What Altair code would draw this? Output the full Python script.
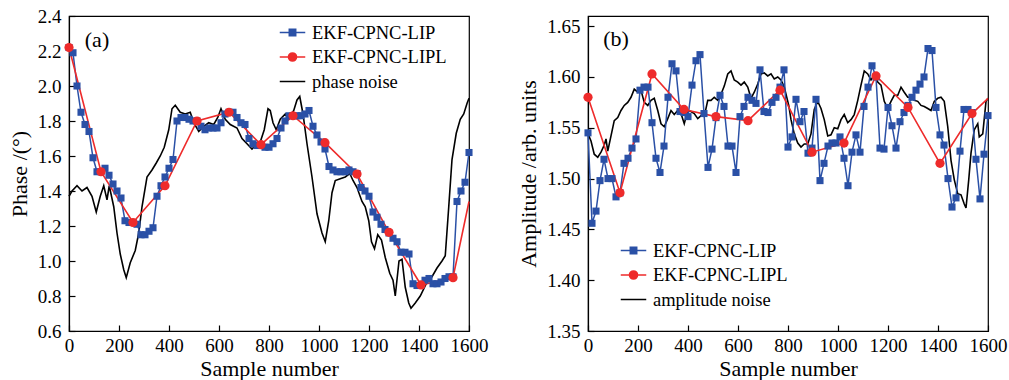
import altair as alt
import pandas as pd

# ---------------- data: panel (a) phase ----------------
STEP = 16  # pilot spacing of the LIP estimate (samples)
lip_phase = [2.22, 2.19, 2.00, 1.85, 1.78, 1.74, 1.59, 1.51, 1.51, 1.53,
             1.49, 1.44, 1.40, 1.36, 1.23, 1.22, 1.22, 1.21, 1.15, 1.15,
             1.17, 1.19, 1.37, 1.43, 1.48, 1.53, 1.58, 1.80, 1.82, 1.82,
             1.81, 1.80, 1.80, 1.77, 1.75, 1.76, 1.76, 1.76, 1.79, 1.84,
             1.85, 1.85, 1.82, 1.79, 1.78, 1.70, 1.67, 1.66, 1.66, 1.65,
             1.65, 1.67, 1.70, 1.76, 1.80, 1.83, 1.83, 1.83, 1.83, 1.84,
             1.86, 1.77, 1.72, 1.68, 1.64, 1.54, 1.52, 1.51, 1.51, 1.51,
             1.52, 1.51, 1.50, 1.42, 1.40, 1.37, 1.28, 1.25, 1.21, 1.18,
             1.16, 1.13, 1.11, 1.05, 1.05, 1.04, 0.87, 0.86, 0.86, 0.89,
             0.90, 0.87, 0.87, 0.88, 0.90, 0.91, 0.91, 1.34, 1.40, 1.45,
             1.62]
lipl_x = [0, 128, 256, 384, 512, 640, 768, 896, 1024, 1152, 1280, 1408, 1536, 1600]
lipl_phase = [2.22, 1.51, 1.22, 1.43, 1.80, 1.85, 1.665, 1.83, 1.676, 1.497,
              1.164, 0.863, 0.905, 1.34]
noise_phase_x = [0, 12, 32, 52, 72, 92, 109, 125, 139, 152, 161, 179, 192, 205,
                 219, 229, 245, 265, 279, 292, 312, 332, 349, 365, 381, 399, 412,
                 425, 445, 465, 485, 499, 519, 539, 559, 579, 595, 608, 625, 645,
                 672, 692, 712, 732, 745, 765, 781, 796, 805, 816, 829, 845, 865,
                 879, 899, 912, 923, 936, 952, 972, 992, 1012, 1025, 1039, 1052,
                 1065, 1085, 1105, 1123, 1136, 1152, 1172, 1185, 1199, 1210, 1222,
                 1235, 1250, 1265, 1283, 1296, 1305, 1320, 1332, 1345, 1359, 1368,
                 1385, 1405, 1429, 1452, 1472, 1492, 1505, 1519, 1532, 1549, 1565,
                 1579, 1592, 1600]
noise_phase = [1.37, 1.40, 1.43, 1.40, 1.42, 1.37, 1.28, 1.37, 1.43, 1.35, 1.43,
               1.31, 1.16, 1.04, 0.95, 0.905, 0.99, 1.06, 1.16, 1.31, 1.48, 1.52,
               1.56, 1.60, 1.65, 1.75, 1.87, 1.89, 1.85, 1.84, 1.85, 1.79, 1.74,
               1.77, 1.79, 1.78, 1.82, 1.87, 1.81, 1.78, 1.76, 1.70, 1.67, 1.64,
               1.66, 1.68, 1.75, 1.87, 1.86, 1.79, 1.75, 1.81, 1.84, 1.81, 1.86,
               1.92, 1.94, 1.84, 1.67, 1.48, 1.27, 1.16, 1.11, 1.23, 1.39, 1.46,
               1.47, 1.48, 1.50, 1.46, 1.42, 1.34, 1.31, 1.23, 1.11, 1.07, 1.15,
               1.12, 1.02, 0.93, 0.89, 0.80, 1.00, 1.01, 0.85, 0.76, 0.73, 0.76,
               0.80, 0.87, 0.91, 0.96, 1.00, 1.03, 1.31, 1.58, 1.73, 1.81, 1.84,
               1.90, 1.93]

# ---------------- data: panel (b) amplitude ----------------
lip_amp = [1.545, 1.456, 1.468, 1.498, 1.519, 1.500, 1.500, 1.482, 1.486, 1.515,
           1.520, 1.530, 1.539, 1.587, 1.590, 1.590, 1.555, 1.520, 1.506, 1.532,
           1.580, 1.613, 1.606, 1.566, 1.565, 1.561, 1.592, 1.616, 1.622, 1.564,
           1.511, 1.529, 1.560, 1.582, 1.571, 1.532, 1.532, 1.506, 1.561, 1.571,
           1.580, 1.577, 1.574, 1.607, 1.566, 1.565, 1.575, 1.580, 1.590, 1.607,
           1.531, 1.541, 1.578, 1.556, 1.566, 1.525, 1.530, 1.578, 1.498, 1.515,
           1.532, 1.535, 1.535, 1.541, 1.520, 1.493, 1.526, 1.543, 1.526, 1.571,
           1.590, 1.611, 1.600, 1.530, 1.529, 1.570, 1.552, 1.530, 1.556, 1.565,
           1.572, 1.580, 1.587, 1.593, 1.600, 1.628, 1.626, 1.570, 1.543, 1.533,
           1.500, 1.472, 1.481, 1.527, 1.568, 1.568, 1.565, 1.519, 1.480, 1.524,
           1.562]
lipl_amp = [1.580, 1.486, 1.603, 1.568, 1.561, 1.557, 1.587, 1.526, 1.535, 1.601,
            1.570, 1.515, 1.564, 1.579]
noise_amp_x = [0, 12, 25, 39, 52, 65, 72, 79, 92, 105, 119, 132, 145, 159, 172,
               185, 199, 212, 225, 239, 252, 265, 279, 292, 305, 319, 332, 345,
               359, 372, 385, 399, 412, 425, 439, 452, 465, 479, 492, 505, 519,
               532, 545, 559, 572, 585, 599, 612, 625, 639, 652, 665, 679, 692,
               705, 719, 732, 745, 759, 772, 785, 803, 812, 825, 839, 852, 865,
               879, 892, 905, 919, 932, 945, 959, 972, 985, 999, 1012, 1025, 1039,
               1052, 1065, 1079, 1092, 1105, 1119, 1132, 1145, 1159, 1172, 1185,
               1199, 1212, 1225, 1239, 1252, 1265, 1279, 1292, 1305, 1319, 1332,
               1345, 1359, 1372, 1385, 1399, 1412, 1425, 1439, 1452, 1465, 1479,
               1492, 1505, 1512, 1523, 1532, 1545, 1559, 1565, 1579, 1592, 1600]
noise_amp = [1.544, 1.537, 1.524, 1.521, 1.526, 1.533, 1.539, 1.527, 1.542, 1.557,
             1.560, 1.567, 1.572, 1.575, 1.580, 1.588, 1.585, 1.587, 1.575, 1.572,
             1.577, 1.579, 1.567, 1.554, 1.551, 1.559, 1.567, 1.563, 1.567, 1.564,
             1.554, 1.567, 1.566, 1.564, 1.559, 1.562, 1.561, 1.577, 1.577, 1.580,
             1.577, 1.583, 1.591, 1.603, 1.606, 1.597, 1.595, 1.592, 1.595, 1.590,
             1.579, 1.585, 1.593, 1.603, 1.604, 1.601, 1.603, 1.598, 1.600, 1.597,
             1.590, 1.572, 1.558, 1.544, 1.535, 1.531, 1.534, 1.534, 1.544, 1.568,
             1.576, 1.569, 1.558, 1.542, 1.543, 1.550, 1.549, 1.558, 1.563, 1.555,
             1.558, 1.563, 1.577, 1.592, 1.606, 1.603, 1.597, 1.602, 1.595, 1.592,
             1.576, 1.569, 1.576, 1.582, 1.582, 1.590, 1.585, 1.580, 1.580, 1.577,
             1.576, 1.572, 1.571, 1.569, 1.567, 1.576, 1.579, 1.580, 1.576, 1.551,
             1.518, 1.499, 1.485, 1.484, 1.475, 1.471, 1.499, 1.525, 1.548, 1.554,
             1.541, 1.544, 1.576, 1.579]

x_ticks = [0, 200, 400, 600, 800, 1000, 1200, 1400, 1600]
phase_ticks = [0.6, 0.8, 1.0, 1.2, 1.4, 1.6, 1.8, 2.0, 2.2, 2.4]
amp_ticks = [1.35, 1.40, 1.45, 1.50, 1.55, 1.60, 1.65]

# ---------------- style ----------------
BLUE = "#2A50A6"
RED = "#EE2B2B"
BLACK = "#000000"
FONT = "Liberation Serif"
W, H = 400, 315

PATH_SQ = "M-1.5,0H1.5M-0.38,-0.38H0.38V0.38H-0.38Z"
PATH_CI = "M-1.5,0H1.5M0.48,0A0.48,0.48 0 1,1 -0.48,0A0.48,0.48 0 1,1 0.48,0Z"
PATH_LN = "M-1.5,0H1.5"


def panel(lip_y, lipl_y, nx, ny, noise_name, ydom, yticks, yfmt, ytitle,
          tag, tag_xy, leg_xy):
    lip_x = list(range(0, 1601, STEP))
    df_lip = pd.DataFrame({"s": lip_x, "v": lip_y})
    df_lipl = pd.DataFrame({"s": lipl_x, "v": lipl_y})
    df_noise = pd.DataFrame({"s": nx, "v": ny})
    df_tag = pd.DataFrame({"s": [tag_xy[0]], "v": [tag_xy[1]], "t": [tag]})

    xs = alt.Scale(domain=[0, 1600], nice=False)
    ys = alt.Scale(domain=ydom, nice=False, zero=False)
    xax = alt.Axis(values=x_ticks, title="Sample number", grid=False,
                   labelFont=FONT, labelFontSize=19, titleFont=FONT,
                   titleFontSize=22, titleFontWeight="normal",
                   tickSize={"expr": "-6"}, labelPadding=11, titlePadding=3,
                   labelFlush=False, labelOverlap=False, format="d")
    yax = alt.Axis(values=yticks, title=ytitle, grid=False, format=yfmt,
                   labelFont=FONT, labelFontSize=19, titleFont=FONT,
                   titleFontSize=22, titleFontWeight="normal",
                   tickSize={"expr": "-6"}, labelPadding=14, titlePadding=6,
                   labelFlush=False, labelOverlap=False)
    X = alt.X("s:Q", scale=xs, axis=xax)
    Y = alt.Y("v:Q", scale=ys, axis=yax)

    noise = alt.Chart(df_noise).mark_line(color=BLACK, strokeWidth=1.6).encode(x=X, y=Y)
    blue_l = alt.Chart(df_lip).mark_line(color=BLUE, strokeWidth=1.5).encode(x=X, y=Y)
    blue_p = alt.Chart(df_lip).mark_point(shape="square", filled=True, size=50,
                                          color=BLUE, opacity=1).encode(x=X, y=Y)
    red_l = alt.Chart(df_lipl).mark_line(color=RED, strokeWidth=1.6).encode(x=X, y=Y)
    red_p = alt.Chart(df_lipl).transform_filter("datum.s < 1600").mark_point(
        shape="circle", filled=True, size=85, color=RED, opacity=1).encode(x=X, y=Y)

    names = ["EKF-CPNC-LIP", "EKF-CPNC-LIPL", noise_name]
    leg = alt.Legend(title=None, orient="none", legendX=leg_xy[0], legendY=leg_xy[1],
                     labelFont=FONT, labelFontSize=18.5, labelColor="black",
                     symbolSize=289, symbolStrokeWidth=1.5, symbolOpacity=1,
                     labelOffset=10, rowPadding=5.5, padding=0)
    cscale = alt.Scale(domain=names, range=[BLUE, RED, BLACK])
    dummy = alt.Chart(pd.DataFrame({"series": names})).mark_point(
        opacity=0, filled=True).encode(
        fill=alt.Fill("series:N", scale=cscale, legend=leg),
        stroke=alt.Stroke("series:N", scale=cscale, legend=leg),
        shape=alt.Shape("series:N", scale=alt.Scale(domain=names,
                        range=[PATH_SQ, PATH_CI, PATH_LN]), legend=leg),
    )
    label = alt.Chart(df_tag).mark_text(
        font=FONT, fontSize=22, align="center", baseline="middle", color="black"
    ).encode(x=X, y=Y, text="t:N")

    return alt.layer(noise, blue_l, red_l, blue_p, red_p, dummy, label).properties(
        width=W, height=H)


pa = panel(lip_phase, lipl_phase, noise_phase_x, noise_phase, "phase noise",
           [0.6, 2.4], phase_ticks, ".1f", "Phase /(°)", "(a)", (112, 2.262), (214, 7))
pb = panel(lip_amp, lipl_amp, noise_amp_x, noise_amp, "amplitude noise",
           [1.35, 1.66], amp_ticks, ".2f", "Amplitude /arb. units", "(b)", (112, 1.637), (36, 225))

chart = alt.hconcat(pa, pb, spacing=28).resolve_scale(
    fill="independent", stroke="independent", shape="independent"
).configure(
    padding={"left": 7, "top": 6, "right": 0, "bottom": 0},
    background="white",
).configure_view(
    stroke="black", strokeWidth=1.2
).configure_axis(
    domainColor="black", domainWidth=1.2, tickColor="black", tickWidth=1.2,
    labelColor="black", titleColor="black", labelOverlap=False
)

chart.save("out.html", embed_options={"renderer": "svg", "actions": False})
